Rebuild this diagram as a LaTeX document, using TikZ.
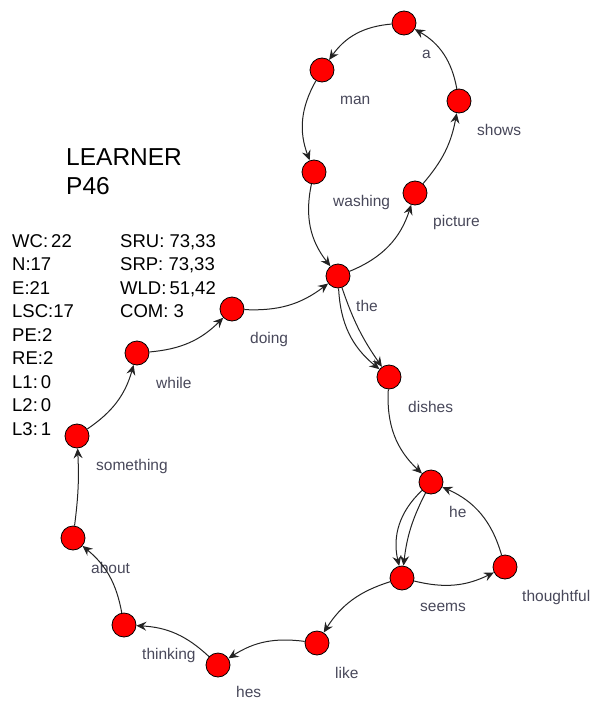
\documentclass[tikz,border=0pt]{standalone}
\usepackage{fontspec}
\setmainfont{Liberation Sans}
\usetikzlibrary{arrows.meta}
\definecolor{lblc}{RGB}{72,72,90}
\definecolor{edgec}{RGB}{35,35,35}
\begin{document}
\begin{tikzpicture}[x=1pt,y=-1pt,
 wn/.style={circle,fill=red,draw=black,line width=0.8pt,minimum size=24pt,inner sep=0pt},
 lbl/.style={anchor=west,text=lblc,font=\fontsize{15.5}{18}\selectfont,inner sep=0pt},
 st/.style={anchor=base west,inner sep=0pt,font=\fontsize{18.5}{22}\selectfont},
 ttl/.style={anchor=base west,inner sep=0pt,font=\fontsize{24.5}{28}\selectfont},
 ed/.style={draw=edgec,line width=1pt,-{Stealth[length=10pt,width=9pt,inset=3.5pt]},bend right=#1},
 ed/.default=25]
\useasboundingbox (0,0) rectangle (593,701);
% nodes
\node[wn] (a) at (404,23) {};
\node[wn] (man) at (322,70) {};
\node[wn] (shows) at (459,101) {};
\node[wn] (washing) at (314,172) {};
\node[wn] (picture) at (415,193) {};
\node[wn] (the) at (338,276) {};
\node[wn] (doing) at (232,309) {};
\node[wn] (while) at (137,353) {};
\node[wn] (dishes) at (389,377) {};
\node[wn] (something) at (77,436) {};
\node[wn] (he) at (431,482) {};
\node[wn] (about) at (73,538) {};
\node[wn] (thoughtful) at (505,567) {};
\node[wn] (seems) at (402,578) {};
\node[wn] (thinking) at (124,625) {};
\node[wn] (like) at (317,643) {};
\node[wn] (hes) at (218,665) {};
% labels
\node[lbl] (l-a) at (422,54) {a};
\node[lbl] (l-man) at (340,100) {man};
\node[lbl] (l-shows) at (477,130) {shows};
\node[lbl] (l-washing) at (333,202) {washing};
\node[lbl] (l-picture) at (433,222) {picture};
\node[lbl] (l-the) at (356,306) {the};
\node[lbl] (l-doing) at (250,339) {doing};
\node[lbl] (l-while) at (156,383) {while};
\node[lbl] (l-dishes) at (408,407) {dishes};
\node[lbl] (l-something) at (96,466) {something};
\node[lbl] (l-he) at (449,512) {he};
\node[lbl] (l-about) at (91,568) {about};
\node[lbl] (l-thoughtful) at (522,597) {thoughtful};
\node[lbl] (l-seems) at (420,607) {seems};
\node[lbl] (l-thinking) at (142,655) {thinking};
\node[lbl] (l-like) at (335,673) {like};
\node[lbl] (l-hes) at (236,692) {hes};
% edges
\draw[ed] (the) to (picture);
\draw[ed=15] (picture) to (shows);
\draw[ed] (shows) to (a);
\draw[ed] (a) to (man);
\draw[ed] (man) to (washing);
\draw[ed] (washing) to (the);
\draw[ed=8] (the) to (dishes);
\draw[ed=24] (the) to (dishes);
\draw[ed] (dishes) to (he);
\draw[ed=10] (he) to (seems);
\draw[ed=30] (he) to (seems);
\draw[ed=20] (seems) to (thoughtful);
\draw[ed=25] (thoughtful) to (he);
\draw[ed=20] (seems) to (like);
\draw[ed=20] (like) to (hes);
\draw[ed=20] (hes) to (thinking);
\draw[ed=20] (thinking) to (about);
\draw[ed=5] (about) to (something);
\draw[ed=20] (something) to (while);
\draw[ed=20] (while) to (doing);
\draw[ed=20] (doing) to (the);
% title and stats
\node[ttl] (t1) at (66,165) {LEARNER};
\node[ttl] (t2) at (66,194) {P46};
\node[st] (s1) at (12,247) {WC:\,22};
\node[st] (s2) at (12,270.5) {N:17};
\node[st] (s3) at (12,294) {E:21};
\node[st] (s4) at (12,317.5) {LSC:17};
\node[st] (s5) at (12,341) {PE:2};
\node[st] (s6) at (12,364.5) {RE:2};
\node[st] (s7) at (12,388) {L1:\,0};
\node[st] (s8) at (12,411.5) {L2:\,0};
\node[st] (s9) at (12,435) {L3:\,1};
\node[st] (r1) at (120,247) {SRU: 73,33};
\node[st] (r2) at (120,270.5) {SRP: 73,33};
\node[st] (r3) at (120,294) {WLD:\,51,42};
\node[st] (r4) at (120,317.5) {COM: 3};
\end{tikzpicture}
\end{document}
